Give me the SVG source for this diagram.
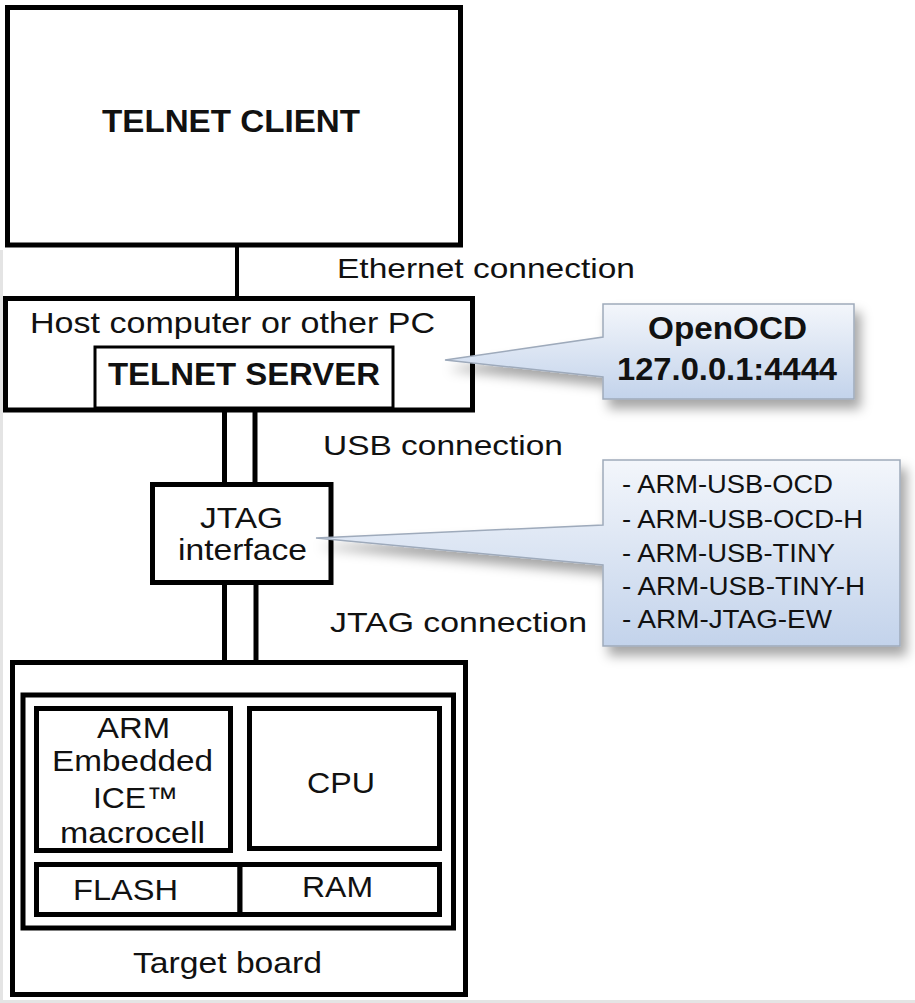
<svg xmlns="http://www.w3.org/2000/svg" width="915" height="1003" viewBox="0 0 915 1003">
<style>
.box{fill:#fff;stroke:#000;stroke-width:5}
.thin{fill:#fff;stroke:#000;stroke-width:3}
.t{font-family:"Liberation Sans",Arial,sans-serif;fill:#111}
.b{font-weight:bold}
.con{stroke:#000;fill:none}
.call{stroke:#9eaabb;stroke-width:1.5;fill:url(#cg);filter:url(#sh)}
</style>
<defs>
<linearGradient id="cg" x1="0" y1="0" x2="0" y2="1">
<stop offset="0" stop-color="#f3f6fb"/>
<stop offset="1" stop-color="#c3d3eb"/>
</linearGradient>
<filter id="sh" x="-10%" y="-20%" width="130%" height="150%">
<feDropShadow dx="6" dy="9" stdDeviation="6" flood-color="#000" flood-opacity="0.35"/>
</filter>
</defs>
<rect width="915" height="1003" fill="#fff"/>
<path d="M1.5,250 V1001.5 H915" stroke="#e4e4e4" stroke-width="3" fill="none"/>

<g id="connectors">
<line class="con" x1="237" y1="247" x2="237" y2="298" stroke-width="4"/>
<line class="con" x1="224.5" y1="410" x2="224.5" y2="484" stroke-width="5"/>
<line class="con" x1="255" y1="410" x2="255" y2="484" stroke-width="5"/>
<line class="con" x1="224.5" y1="583" x2="224.5" y2="662" stroke-width="5"/>
<line class="con" x1="256" y1="583" x2="256" y2="662" stroke-width="5"/>
<text class="t" x="337" y="278" font-size="28" textLength="298" lengthAdjust="spacingAndGlyphs">Ethernet connection</text>
<text class="t" x="323" y="455" font-size="28" textLength="240" lengthAdjust="spacingAndGlyphs">USB connection</text>
<text class="t" x="330" y="632" font-size="28" textLength="257" lengthAdjust="spacingAndGlyphs">JTAG connection</text>
</g>

<g id="telnet-client">
<rect class="box" x="7.5" y="7.5" width="453" height="237.5"/>
<text class="t b" x="102" y="132" font-size="32" textLength="258" lengthAdjust="spacingAndGlyphs">TELNET CLIENT</text>
</g>

<g id="host">
<rect class="box" x="5.5" y="298.5" width="467" height="111.5" stroke-width="6"/>
<text class="t" x="30" y="333" font-size="30" textLength="405" lengthAdjust="spacingAndGlyphs">Host computer or other PC</text>
</g>

<g id="telnet-server">
<rect class="thin" x="95" y="347" width="298" height="61"/>
<text class="t b" x="108" y="385" font-size="32" textLength="272" lengthAdjust="spacingAndGlyphs">TELNET SERVER</text>
</g>

<g id="jtag-interface">
<rect class="box" x="152.5" y="484.5" width="178.5" height="98"/>
<text class="t" x="200" y="528" font-size="30" textLength="83" lengthAdjust="spacingAndGlyphs">JTAG</text>
<text class="t" x="178" y="560" font-size="30" textLength="129" lengthAdjust="spacingAndGlyphs">interface</text>
</g>

<g id="openocd-callout">
<path class="call" d="M603,304 H854 V399 H603 V377 L445,360 L603,337 Z"/>
<text class="t b" x="648" y="339" font-size="32" textLength="159" lengthAdjust="spacingAndGlyphs">OpenOCD</text>
<text class="t b" x="617" y="380" font-size="32" textLength="220" lengthAdjust="spacingAndGlyphs">127.0.0.1:4444</text>
</g>

<g id="adapters-callout">
<path class="call" d="M603,460 H900 V646 H603 V565 L316,538 L603,525 Z"/>
<text class="t" x="622" y="493" font-size="25" textLength="211" lengthAdjust="spacingAndGlyphs">- ARM-USB-OCD</text>
<text class="t" x="622" y="528" font-size="25" textLength="241" lengthAdjust="spacingAndGlyphs">- ARM-USB-OCD-H</text>
<text class="t" x="622" y="562" font-size="25" textLength="213" lengthAdjust="spacingAndGlyphs">- ARM-USB-TINY</text>
<text class="t" x="622" y="595" font-size="25" textLength="243" lengthAdjust="spacingAndGlyphs">- ARM-USB-TINY-H</text>
<text class="t" x="622" y="628" font-size="25" textLength="210" lengthAdjust="spacingAndGlyphs">- ARM-JTAG-EW</text>
</g>

<g id="target-board">
<rect class="box" x="12.5" y="662.5" width="453" height="332"/>
<text class="t" x="133" y="973" font-size="30" textLength="189" lengthAdjust="spacingAndGlyphs">Target board</text>
</g>

<g id="chip">
<rect class="box" x="23" y="695" width="430.5" height="233" stroke-width="6"/>
</g>

<g id="arm-ice">
<rect class="box" x="36.5" y="708.5" width="194" height="142"/>
<text class="t" x="97" y="738" font-size="30" textLength="73" lengthAdjust="spacingAndGlyphs">ARM</text>
<text class="t" x="52" y="771" font-size="30" textLength="161" lengthAdjust="spacingAndGlyphs">Embedded</text>
<text class="t" x="93" y="808" font-size="30" textLength="85" lengthAdjust="spacingAndGlyphs">ICE™</text>
<text class="t" x="60" y="843" font-size="30" textLength="145" lengthAdjust="spacingAndGlyphs">macrocell</text>
</g>

<g id="cpu">
<rect class="box" x="249.5" y="708.5" width="190" height="140"/>
<text class="t" x="307" y="793" font-size="30" textLength="68" lengthAdjust="spacingAndGlyphs">CPU</text>
</g>

<g id="flash">
<rect class="box" x="36.5" y="864.5" width="203.5" height="50"/>
<text class="t" x="73" y="900" font-size="30" textLength="105" lengthAdjust="spacingAndGlyphs">FLASH</text>
</g>

<g id="ram">
<rect class="box" x="240" y="864.5" width="199.5" height="50"/>
<text class="t" x="302" y="897" font-size="30" textLength="71" lengthAdjust="spacingAndGlyphs">RAM</text>
</g>
</svg>
